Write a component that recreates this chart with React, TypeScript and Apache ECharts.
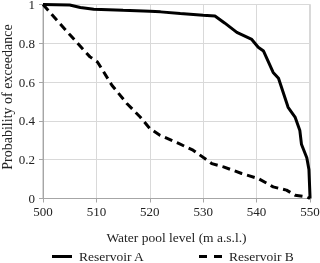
import React, { useEffect, useRef } from "react";
import * as echarts from "echarts";

const levelsA = [500, 505, 507, 509.5, 515, 520, 522, 525.7, 530, 532.2, 534, 536.3, 539.1, 540.3, 541.3, 543.1, 544.1, 545.9, 547.2, 548.1, 548.4, 549.4, 549.8, 550, 550];
const probA = [1.0, 0.997, 0.985, 0.976, 0.97, 0.965, 0.962, 0.954, 0.945, 0.941, 0.905, 0.856, 0.82, 0.78, 0.76, 0.65, 0.62, 0.47, 0.42, 0.35, 0.28, 0.21, 0.15, 0.01, 0];

const levelsB = [500, 505, 508.8, 510.2, 512.9, 515.7, 518.2, 520, 521.9, 525.3, 528.1, 530.3, 531.6, 533.8, 537.2, 540.3, 543.1, 545.6, 547.2, 549.4, 550];
const probB = [1.0, 0.845, 0.73, 0.704, 0.584, 0.49, 0.42, 0.361, 0.326, 0.285, 0.249, 0.206, 0.18, 0.163, 0.129, 0.103, 0.06, 0.043, 0.017, 0.008, 0];

const seriesNames = ["Reservoir A", "Reservoir B"];
const xTicks = [500, 510, 520, 530, 540, 550];
const yTicks = [0, 0.2, 0.4, 0.6, 0.8, 1];
const xTitle = "Water pool level (m a.s.l.)";
const yTitle = "Probability of exceedance";

const FONT = "'Liberation Serif', 'Times New Roman', serif";
const TEXT = "#222";

export default function App() {
  const ref = useRef<HTMLDivElement>(null);
  useEffect(() => {
    if (!ref.current) return;
    const chart = echarts.init(ref.current, undefined, { renderer: "svg" });
    chart.setOption({
      animation: false,
      textStyle: { fontFamily: FONT, color: TEXT },
      grid: {
        left: 43,
        right: 10,
        top: 4.5,
        bottom: 64.5,
        containLabel: false,
        outerBoundsMode: "none",
        show: true,
        borderColor: "#b0b0b0",
        borderWidth: 1,
      },
      xAxis: {
        type: "value",
        min: xTicks[0],
        max: xTicks[xTicks.length - 1],
        interval: 10,
        name: xTitle,
        nameLocation: "middle",
        nameGap: 32,
        nameTextStyle: { fontFamily: FONT, fontSize: 13.5, color: TEXT },
        axisLine: { show: true, lineStyle: { color: "#a6a6a6" } },
        axisTick: { show: true, length: 4, lineStyle: { color: "#a6a6a6" } },
        axisLabel: { fontFamily: FONT, fontSize: 13, color: TEXT, margin: 6 },
        splitLine: { show: true, lineStyle: { color: "#d9d9d9" } },
      },
      yAxis: {
        type: "value",
        min: yTicks[0],
        max: yTicks[yTicks.length - 1],
        interval: 0.2,
        axisLine: { show: true, lineStyle: { color: "#a6a6a6" } },
        axisTick: { show: true, length: 4, lineStyle: { color: "#a6a6a6" } },
        axisLabel: { fontFamily: FONT, fontSize: 13, color: TEXT, margin: 8 },
        splitLine: { show: true, lineStyle: { color: "#d9d9d9" } },
      },
      graphic: [
        {
          type: "text",
          x: 7.5,
          y: 97,
          rotation: Math.PI / 2,
          style: { text: yTitle, font: `14px ${FONT}`, fill: TEXT, textAlign: "center", textVerticalAlign: "middle" },
        },
        { type: "line", shape: { x1: 52, y1: 256.5, x2: 72, y2: 256.5 }, style: { stroke: "#000", lineWidth: 3 } },
        { type: "text", x: 79, y: 256.5, style: { text: seriesNames[0], font: `13.5px ${FONT}`, fill: TEXT, textVerticalAlign: "middle" } },
        { type: "line", shape: { x1: 199, y1: 256.5, x2: 222, y2: 256.5 }, style: { stroke: "#000", lineWidth: 3, lineDash: [8, 7] } },
        { type: "text", x: 229, y: 256.5, style: { text: seriesNames[1], font: `13.5px ${FONT}`, fill: TEXT, textVerticalAlign: "middle" } },
      ],
      series: [
        {
          name: seriesNames[0],
          type: "line",
          symbol: "none",
          data: levelsA.map((x, i) => [x, probA[i]]),
          lineStyle: { color: "#000", width: 3 },
          itemStyle: { color: "#000" },
        },
        {
          name: seriesNames[1],
          type: "line",
          symbol: "none",
          data: levelsB.map((x, i) => [x, probB[i]]),
          lineStyle: { color: "#000", width: 3, type: [8, 5] },
          itemStyle: { color: "#000" },
        },
      ],
    });
    return () => chart.dispose();
  }, []);
  return <div ref={ref} style={{ width: 320, height: 263, position: "fixed", left: 0, top: 0 }} />;
}
